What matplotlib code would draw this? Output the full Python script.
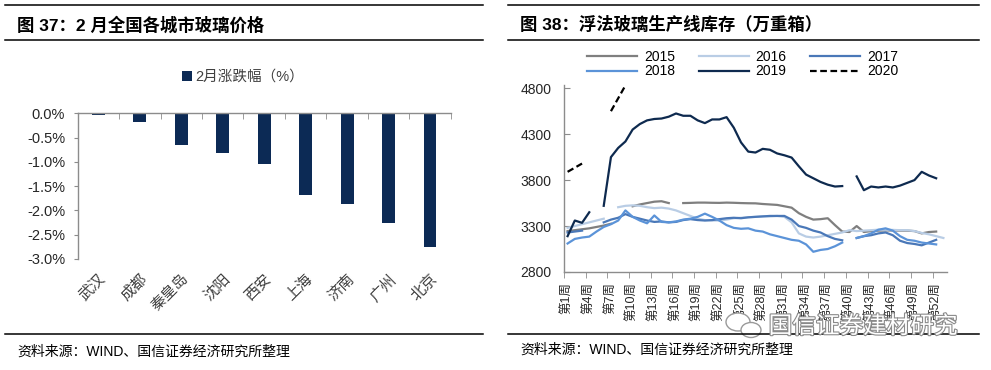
import numpy as np
import matplotlib
matplotlib.use("Agg")
import matplotlib.pyplot as plt
from matplotlib.lines import Line2D
from matplotlib.patches import Ellipse
from matplotlib.ticker import FuncFormatter
import matplotlib.patheffects as pe

plt.rcParams['font.family'] = ['Liberation Sans', 'Noto Sans CJK SC']

nan = np.nan

# ---- left panel: Feb price change by city (%)
cities = ['武汉', '成都', '秦皇岛', '沈阳', '西安', '上海', '济南', '广州', '北京']
feb_change = [-0.04, -0.18, -0.66, -0.82, -1.04, -1.68, -1.87, -2.26, -2.76]

# ---- right panel: float glass inventory by week (10k weight boxes)
weeks = np.arange(1, 54)
week_ticks = [1, 4, 7, 10, 13, 16, 19, 22, 25, 28, 31, 34, 37, 40, 43, 46, 49, 52]
week_labels = ['第1周', '第4周', '第7周', '第10周', '第13周', '第16周', '第19周',
               '第22周', '第25周', '第28周', '第31周', '第34周', '第37周',
               '第40周', '第43周', '第46周', '第49周', '第52周']

s2015 = [3245, 3255, 3265, 3275, 3290, 3305, 3325, nan, nan, 3515,
         3535, 3550, 3565, 3570, 3550, nan, 3550, 3552, 3555, 3555,
         3553, 3552, 3555, 3553, 3550, 3548, 3547, 3540, 3535, 3530,
         3515, 3500, 3440, 3400, 3370, 3375, 3385, 3310, 3240, 3235,
         3300, 3235, 3245, 3250, 3252, 3252, 3250, 3250, 3245, 3220,
         3235, 3240, nan]
s2016 = [3280, 3300, 3320, 3340, 3360, 3380, nan, 3505, 3520, 3525,
         3520, 3505, 3495, 3500, 3490, 3470, 3440, 3410, 3380, 3365,
         3360, 3360, 3370, 3385, 3390, 3395, 3400, 3405, 3405, 3410,
         3400, 3340, 3220, 3185, 3175, 3185, 3200, 3215, 3230, 3255,
         3245, 3250, 3255, 3260, 3260, 3258, 3255, 3255, 3245, 3225,
         3210, 3190, 3170]
s2017 = [3230, 3240, 3250, nan, nan, 3340, 3370, 3390, 3430, 3400,
         3380, 3360, 3345, 3350, 3340, 3345, 3365, 3375, 3365, 3360,
         3365, 3375, 3385, 3390, 3385, 3395, 3400, 3405, 3410, 3410,
         3410, 3370, 3300, 3280, 3250, 3230, 3190, 3160, 3145, nan,
         3170, 3190, 3200, 3220, 3230, 3200, 3140, 3115, 3105, 3090,
         3120, 3150, nan]
s2018 = [3110, 3160, 3175, 3185, 3240, 3290, 3320, 3360, 3470, 3400,
         3360, 3330, 3415, 3345, 3340, 3350, 3370, 3380, 3400, 3435,
         3400, 3360, 3310, 3280, 3270, 3275, 3250, 3240, 3210, 3190,
         3170, 3150, 3140, 3100, 3020, 3040, 3050, 3080, 3120, nan,
         3170, 3190, 3220, 3260, 3275, 3250, 3190, 3150, 3140, 3120,
         3110, 3100, nan]
s2019 = [3190, 3360, 3335, 3450, nan, 3520, 4050, 4150, 4220, 4350,
         4410, 4450, 4465, 4470, 4490, 4525, 4500, 4500, 4450, 4420,
         4460, 4460, 4485, 4370, 4210, 4110, 4100, 4140, 4130, 4090,
         4070, 4045, 3950, 3860, 3820, 3780, 3750, 3730, 3735, nan,
         3840, 3690, 3730, 3720, 3730, 3720, 3740, 3770, 3800, 3890,
         3850, 3820, nan]
s2020 = [3890, 3935, 3980, nan, nan, nan, 4550, 4690, 4830]

navy = '#0c2a55'
gray = '#8c8c8c'
txt = '#262626'

fig = plt.figure(figsize=(9.91, 3.70), dpi=100)

# frame decorations (titles, rules, sources)
for x0, x1 in [(5 / 991, 483 / 991), (508 / 991, 979 / 991)]:
    for yy in [0.9865, 0.8919, 0.0973]:
        fig.add_artist(Line2D([x0, x1], [yy, yy], color='black', lw=1.1,
                              transform=fig.transFigure))

fig.text(17 / 991, 0.9324, '图 37：2 月全国各城市玻璃价格', fontsize=12.5,
         fontweight='bold', va='center', ha='left', color='black')
fig.text(520 / 991, 0.935, '图 38：浮法玻璃生产线库存（万重箱）', fontsize=12.5,
         fontweight='bold', va='center', ha='left', color='black')
fig.text(17 / 991, 0.0495, '资料来源：WIND、国信证券经济研究所整理', fontsize=10,
         va='center', ha='left', color='black')
fig.text(520 / 991, 0.054, '资料来源：WIND、国信证券经济研究所整理', fontsize=10,
         va='center', ha='left', color='black')

# ---------------- left chart
axL = fig.add_axes([0.0784, 0.300, 0.3764, 0.3938])
x = np.arange(len(cities))
axL.bar(x, feb_change, width=0.31, color=navy, label='2月涨跌幅（%）', zorder=2)
axL.set_xlim(-0.5, len(cities) - 0.5)
axL.set_ylim(-3.0, 0)
axL.set_yticks(np.arange(-3.0, 0.01, 0.5))
axL.yaxis.set_major_formatter(FuncFormatter(lambda v, p: '%.1f%%' % (0.0 if abs(v) < 1e-9 else v)))
axL.set_xticks(x)
axL.set_xticklabels(cities, rotation=45, ha='right', va='top', rotation_mode='anchor')
axL.set_xticks(np.arange(-0.5, len(cities), 1.0), minor=True)
for s in ['right', 'bottom']:
    axL.spines[s].set_visible(False)
for s in ['top', 'left']:
    axL.spines[s].set_color(gray)
    axL.spines[s].set_linewidth(1.0)
axL.tick_params(axis='x', which='major', length=0, pad=9, labelsize=11, labelcolor='#404040')
axL.tick_params(axis='x', which='minor', top=True, bottom=False, direction='in',
                length=4, color=gray)
axL.tick_params(axis='y', direction='out', length=3, color=gray, pad=6,
                labelsize=10.5, labelcolor=txt)
axL.legend(loc='center', bbox_to_anchor=(0.443, 1.25), frameon=False,
           handlelength=0.7, handleheight=0.7, handletextpad=0.2, fontsize=10.5,
           labelcolor='#404040')

# ---------------- right chart
axR = fig.add_axes([0.5691, 0.2649, 0.3865, 0.5054])
series = [
    ('2015', s2015, '#7f7f7f', '-'),
    ('2016', s2016, '#b9cde5', '-'),
    ('2017', s2017, '#4a78b8', '-'),
    ('2018', s2018, '#5b93d8', '-'),
    ('2019', s2019, '#0e2a4f', '-'),
    ('2020', s2020, 'black', (0, (3, 1.6))),
]
handles = {}
for name, vals, col, ls in series:
    ln, = axR.plot(weeks[:len(vals)], vals, color=col, lw=1.6, ls=ls, label=name)
    handles[name] = ln

axR.set_xlim(0.5, 53.5)
axR.set_ylim(2800, 4835)
axR.set_yticks([2800, 3300, 3800, 4300, 4800])
axR.set_xticks(week_ticks)
axR.set_xticklabels(week_labels, rotation=90, ha='center', va='top')
axR.set_xticks(np.arange(0.5, 52, 3), minor=True)
for s in ['right', 'top']:
    axR.spines[s].set_visible(False)
for s in ['left', 'bottom']:
    axR.spines[s].set_color(gray)
    axR.spines[s].set_linewidth(1.0)
axR.tick_params(axis='x', which='major', length=0, pad=7, labelsize=9, labelcolor=txt)
axR.tick_params(axis='x', which='minor', direction='out', length=4, color=gray)
axR.tick_params(axis='y', direction='in', length=4, color=gray, pad=9,
                labelsize=10, labelcolor=txt)
# legend reads row by row: 2015 2016 2017 / 2018 2019 2020
order = ['2015', '2018', '2016', '2019', '2017', '2020']
axR.legend([handles[k] for k in order], order, loc='center',
           bbox_to_anchor=(0.467, 1.112), ncol=3, frameon=False,
           fontsize=10, handlelength=3.6, handletextpad=0.5, columnspacing=1.7,
           labelspacing=0.05, borderpad=0)

# watermark
fig.text(0.871, 0.1162, '国信证券建材研究', fontsize=17, color='white',
         ha='center', va='center',
         path_effects=[pe.Stroke(linewidth=1.6, foreground='#8a8a8a'), pe.Normal()])
for cx, cy, w, h in [(738, 322, 24, 18), (751, 330, 20, 15)]:
    fig.add_artist(Ellipse((cx / 991, 1 - cy / 370), w / 991, h / 370,
                           transform=fig.transFigure, facecolor='white',
                           edgecolor='#9a9a9a', lw=1.0))

fig.savefig('out.png', dpi=100)
